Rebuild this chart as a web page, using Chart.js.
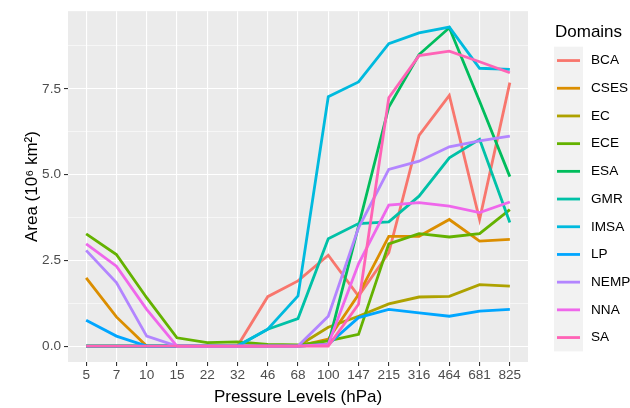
<!DOCTYPE html>
<html>
<head>
<meta charset="utf-8">
<script src="https://cdn.jsdelivr.net/npm/chart.js@4.4.1/dist/chart.umd.min.js"></script>
<style>
  html, body { margin: 0; padding: 0; background: #ffffff; }
  #wrap { position: relative; width: 630px; height: 408px; }
</style>
</head>
<body>
<div id="wrap"><canvas id="c" width="630" height="408"></canvas></div>
<script>
const levels = ['5','7','10','15','22','32','46','68','100','147','215','316','464','681','825'];
const domains = ['BCA','CSES','EC','ECE','ESA','GMR','IMSA','LP','NEMP','NNA','SA'];
const colors = ['#F8766D','#DB8E00','#AEA200','#64B200','#00BD5C','#00C1A7','#00BADE','#00A6FF','#B385FF','#EF67EB','#FF63B6'];

const BCA  = [0,0,0,0,0,0,1.44,1.9,2.65,1.46,2.72,6.14,7.31,3.69,7.68];
const CSES = [1.99,0.85,0,0,0,0,0,0,0.2,1.5,3.2,3.2,3.69,3.06,3.11];
const EC   = [0,0,0,0,0,0,0,0,0.55,0.87,1.23,1.43,1.45,1.79,1.75];
const ECE  = [3.27,2.67,1.41,0.24,0.1,0.12,0.05,0.03,0.15,0.34,2.98,3.28,3.18,3.28,3.98];
const ESA  = [0,0,0,0,0,0,0,0,0.05,3.5,6.97,8.5,9.28,7.14,4.94];
const GMR  = [0,0,0,0,0,0,0.49,0.8,3.13,3.57,3.62,4.37,5.49,6.03,3.6];
const IMSA = [0,0,0,0,0,0,0.49,1.46,7.27,7.7,8.82,9.13,9.3,8.1,8.07];
const LP   = [0.75,0.29,0,0,0,0,0,0,0.05,0.83,1.07,0.97,0.87,1.02,1.07];
const NEMP = [2.79,1.85,0.29,0,0,0,0,0,0.87,3.45,5.15,5.39,5.81,5.98,6.12];
const NNA  = [2.98,2.33,1.07,0,0,0,0,0,0.05,2.4,4.11,4.18,4.08,3.89,4.2];
const SA   = [0,0,0,0,0,0,0,0,0,1.22,7.24,8.47,8.6,8.29,7.97];

const yMajor = [0, 2.5, 5, 7.5];
const yMinor = [1.25, 3.75, 6.25, 8.75];
const yTickLabels = ['0.0','2.5','5.0','7.5'];

const series = [BCA,CSES,EC,ECE,ESA,GMR,IMSA,LP,NEMP,NNA,SA];
const allVals = series.flat();
const dMin = Math.min(...allVals), dMax = Math.max(...allVals);
const pad = (dMax - dMin) * 0.05;

const FONT = 'Liberation Sans, Arial, sans-serif';

const datasets = series.map((vals, i) => ({
  label: domains[i],
  data: vals.map((v, j) => ({ x: j, y: v })),
  borderColor: colors[i],
  backgroundColor: colors[i],
  borderWidth: 2.8,
  pointRadius: 0,
  tension: 0,
  order: series.length - i,
  clip: false
}));

const panelBg = {
  id: 'panelBg',
  beforeDraw(chart) {
    const { ctx, chartArea: a } = chart;
    ctx.save();
    ctx.fillStyle = '#EBEBEB';
    ctx.fillRect(a.left, a.top, a.right - a.left, a.bottom - a.top);
    ctx.restore();
  }
};

const legendPlugin = {
  id: 'ggLegend',
  afterDraw(chart) {
    const ctx = chart.ctx;
    ctx.save();
    ctx.fillStyle = '#000000';
    ctx.font = '17px ' + FONT;
    ctx.textAlign = 'left';
    ctx.textBaseline = 'middle';
    ctx.fillText('Domains', 555, 32);
    const top = 46.7, h = 27.7, kx = 554, kw = 29;
    ctx.fillStyle = '#F2F2F2';
    ctx.fillRect(kx, top, kw, h * domains.length);
    ctx.font = '13.6px ' + FONT;
    domains.forEach((d, i) => {
      const cy = top + h * i + h / 2;
      ctx.strokeStyle = colors[i];
      ctx.lineWidth = 2.8;
      ctx.beginPath();
      ctx.moveTo(kx + 3, cy);
      ctx.lineTo(kx + kw - 3, cy);
      ctx.stroke();
      ctx.fillStyle = '#000000';
      ctx.fillText(d, 591, cy);
    });
    ctx.restore();
  }
};

new Chart(document.getElementById('c'), {
  type: 'line',
  data: { datasets },
  plugins: [panelBg, legendPlugin],
  options: {
    responsive: false,
    animation: false,
    devicePixelRatio: 1,
    layout: { padding: { left: 22, right: 102, top: 11, bottom: 0 } },
    plugins: { legend: { display: false }, tooltip: { enabled: false } },
    scales: {
      x: {
        type: 'linear',
        min: -0.6,
        max: levels.length - 1 + 0.6,
        afterBuildTicks(s) { s.ticks = levels.map((_, i) => ({ value: i })); },
        afterFit(s) { s.height = 46; },
        ticks: {
          autoSkip: false,
          maxRotation: 0,
          color: '#4D4D4D',
          font: { family: FONT, size: 13.6 },
          padding: 1,
          callback: (v) => levels[v]
        },
        grid: { color: '#FFFFFF', lineWidth: 1.1, tickLength: 4, tickColor: '#333333', tickWidth: 1.1 },
        border: { display: false },
        title: { display: true, text: 'Pressure Levels (hPa)', color: '#000000', font: { family: FONT, size: 17 }, padding: { top: 2, bottom: 0 } }
      },
      y: {
        type: 'linear',
        min: dMin - pad,
        max: dMax + pad,
        afterBuildTicks(s) {
          s.ticks = yMajor.concat(yMinor).sort((a, b) => a - b).map(v => ({ value: v }));
        },
        afterFit(s) { s.width = 46; },
        ticks: {
          autoSkip: false,
          color: '#4D4D4D',
          font: { family: FONT, size: 13.6 },
          padding: 3,
          callback: (v) => { const k = yMajor.indexOf(v); return k >= 0 ? yTickLabels[k] : ''; }
        },
        grid: {
          color: '#FFFFFF',
          lineWidth: (c) => yMajor.includes(c.tick && c.tick.value) ? 1.1 : 0.55,
          tickLength: 4,
          tickWidth: 1.1,
          tickColor: (c) => yMajor.includes(c.tick && c.tick.value) ? '#333333' : 'rgba(0,0,0,0)'
        },
        border: { display: false },
        title: { display: true, text: 'Area (10⁶ km²)', color: '#000000', font: { family: FONT, size: 17 }, padding: { top: 0, bottom: 0 } }
      }
    }
  }
});
</script>
</body>
</html>
